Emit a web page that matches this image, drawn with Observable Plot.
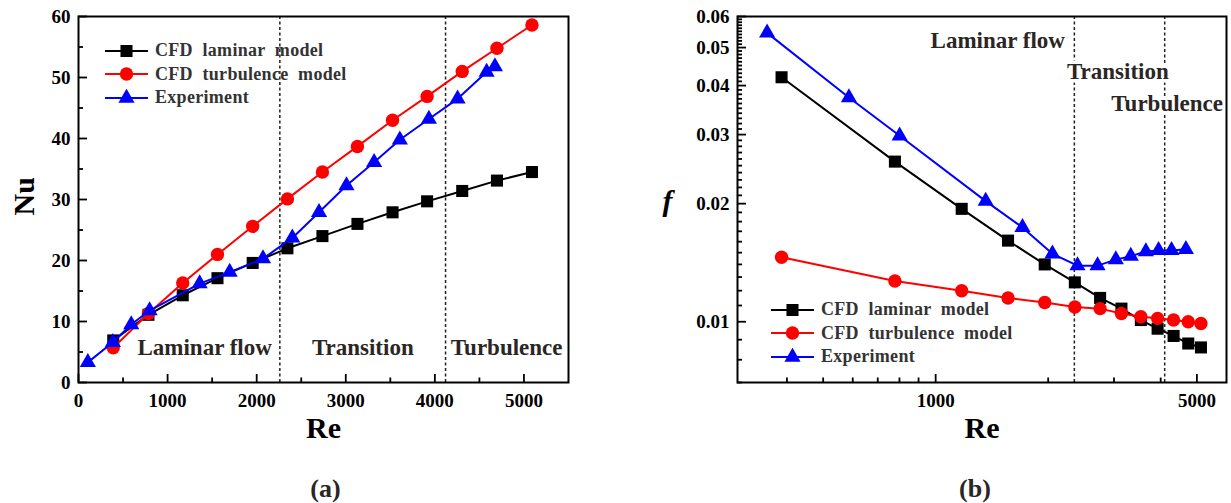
<!DOCTYPE html>
<html><head><meta charset="utf-8">
<script src="https://cdn.jsdelivr.net/npm/d3@7"></script>
<script src="https://cdn.jsdelivr.net/npm/@observablehq/plot@0.6"></script>
<style>
body{margin:0;background:#fff;}
#wrap{position:relative;width:1231px;height:503px;overflow:hidden;font-family:"Liberation Serif","Times New Roman",serif;}
.panel{position:absolute;top:0;}
.legend{position:absolute;font-weight:bold;font-size:18px;letter-spacing:0.3px;color:#333;}
.legend .row{display:flex;align-items:center;height:23.5px;white-space:pre;}
.legend svg{display:block;margin-right:7px;}
</style></head><body><div id="wrap"></div>
<script>
// ---------- data ----------
const seriesNames = ["CFD  laminar  model", "CFD  turbulence  model", "Experiment"];
const seriesColors = ["#000000", "#ff0000", "#0000ff"];
const seriesSymbols = ["square", "circle", "triangle"];

// Panel (a): Nu vs Re
const reLamA = [390, 785, 1170, 1560, 1955, 2345, 2738, 3131, 3525, 3913, 4307, 4697, 5090];
const nuLamA = [6.9, 11.1, 14.3, 17.1, 19.6, 22.0, 24.0, 26.0, 27.9, 29.7, 31.4, 33.1, 34.5];
const reTurbA = [390, 785, 1170, 1560, 1955, 2345, 2738, 3131, 3525, 3913, 4307, 4697, 5090];
const nuTurbA = [5.7, 11.3, 16.3, 21.0, 25.6, 30.1, 34.5, 38.7, 43.0, 46.9, 51.0, 54.8, 58.6];
const reExpA = [105, 386, 592, 798, 1360, 1697, 2071, 2400, 2700, 3008, 3318, 3607, 3933, 4255, 4581, 4674];
const nuExpA = [3.3, 6.6, 9.5, 11.8, 16.2, 18.1, 20.3, 23.7, 27.9, 32.3, 36.1, 39.8, 43.2, 46.5, 50.9, 51.8];

// Panel (b): f vs Re (log-log)
const reLamB = [387, 778, 1174, 1562, 1958, 2357, 2754, 3141, 3540, 3925, 4331, 4740, 5126];
const fLamB = [0.0420, 0.0256, 0.0194, 0.0161, 0.0140, 0.0126, 0.0115, 0.0108, 0.0101, 0.0096, 0.0092, 0.0088, 0.0086];
const reTurbB = [387, 778, 1174, 1562, 1958, 2357, 2754, 3141, 3540, 3925, 4331, 4740, 5126];
const fTurbB = [0.0146, 0.0127, 0.0120, 0.0115, 0.0112, 0.0109, 0.0108, 0.0105, 0.0103, 0.0102, 0.0101, 0.0100, 0.0099];
const reExpB = [354, 586, 801, 1361, 1707, 2053, 2396, 2711, 3034, 3327, 3651, 3948, 4276, 4672];
const fExpB = [0.0545, 0.0373, 0.0298, 0.0203, 0.0174, 0.0149, 0.0139, 0.0139, 0.0144, 0.0147, 0.0151, 0.0152, 0.0152, 0.0153];

// regime boundaries and labels
const boundsA = [2260, 4120];
const boundsB = [2350, 4100];
const regimeLabels = ["Laminar flow", "Transition", "Turbulence"];
const regimeReA = [1416, 3191, 4806];
const regimeNuA = [5.7, 5.7, 5.7];
const regimeReB = [1466, 3073, 4163];
const regimeFB = [0.0521, 0.0434, 0.0360];

// ticks
const xTicksA = [0, 1000, 2000, 3000, 4000, 5000];
const xMinorA = [500, 1500, 2500, 3500, 4500];
const yTicksA = [0, 10, 20, 30, 40, 50, 60];
const yMinorA = [5, 15, 25, 35, 45, 55];
const xTicksB = [1000, 5000];
const xMinorB = [400, 500, 600, 700, 800, 900, 2000, 3000, 4000];
const yTicksB = [0.01, 0.02, 0.03, 0.04, 0.05, 0.06];
const yMinorB = d3.range(7, 60).filter(v => v % 10 !== 0).map(v => v / 1000);

const xTitle = "Re";
const yTitleA = "Nu";
const yTitleB = "f";
const panelTags = ["(a)", "(b)"];

// ---------- helpers ----------
const zip = (xs, ys) => xs.map((x, i) => ({x, y: ys[i]}));
const seriesA = [zip(reLamA, nuLamA), zip(reTurbA, nuTurbA), zip(reExpA, nuExpA)];
const seriesB = [zip(reLamB, fLamB), zip(reTurbB, fTurbB), zip(reExpB, fExpB)];
const regA = regimeLabels.map((t, i) => ({t, x: regimeReA[i], y: regimeNuA[i]}));
const regB = regimeLabels.map((t, i) => ({t, x: regimeReB[i], y: regimeFB[i]}));

const H = 503;
const symR = {square: 6.8, circle: 6.7, triangle: 6.0};
const font = "Liberation Serif";

function seriesMarks(series) {
  const marks = [];
  series.forEach((d, i) => {
    marks.push(Plot.line(d, {x: "x", y: "y", stroke: seriesColors[i], strokeWidth: 2}));
    marks.push(Plot.dot(d, {x: "x", y: "y", symbol: seriesSymbols[i], r: symR[seriesSymbols[i]], fill: seriesColors[i], stroke: "none"}));
  });
  return marks;
}

function panel(opts) {
  const {width, m, xScale, yScale, xMajor, xMinor, yMajor, yMinor, bounds, series, regions, halo, yTitle, yTitleItalic, yTitleDx, yTitleDy, tag, tagDx} = opts;
  const innerW = width - m.left - m.right;
  const innerH = H - m.top - m.bottom;
  return Plot.plot({
    width, height: H,
    marginTop: m.top, marginRight: m.right, marginBottom: m.bottom, marginLeft: m.left,
    style: {fontFamily: font, background: "transparent", color: "black", overflow: "visible"},
    x: {...xScale, axis: null}, y: {...yScale, axis: null},
    marks: [
      Plot.ruleX(xMajor, {insetTop: innerH - 8, stroke: "black", strokeWidth: 1.8}),
      Plot.ruleX(xMinor, {insetTop: innerH - 4.5, stroke: "black", strokeWidth: 1.8}),
      Plot.ruleY(yMajor, {insetRight: innerW - 9, stroke: "black", strokeWidth: 1.8}),
      Plot.ruleY(yMinor, {insetRight: innerW - 5, stroke: "black", strokeWidth: 1.8}),
      Plot.ruleX(bounds, {stroke: "#222", strokeWidth: 1.5, strokeDasharray: "3,2.5"}),
      ...seriesMarks(series),
      Plot.text(regions, {x: "x", y: "y", text: "t", fontSize: 23, fontWeight: "bold", fill: "#2b2624",
        stroke: halo ? "white" : null, strokeWidth: halo ? 7 : null}),
      Plot.frame({stroke: "black", strokeWidth: 2}),
      // tick labels
      Plot.text(xMajor, {x: d => d, frameAnchor: "bottom", dy: 11, lineAnchor: "top", text: d => String(d), fontSize: 19, fontWeight: "bold"}),
      Plot.text(yMajor, {y: d => d, frameAnchor: "left", dx: -8, textAnchor: "end", lineAnchor: "middle", text: d => String(d), fontSize: 19, fontWeight: "bold"}),
      // titles
      Plot.text([xTitle], {frameAnchor: "bottom", dy: 46, text: d => d, fontSize: 30, fontWeight: "bold", lineAnchor: "middle"}),
      Plot.text([tag], {frameAnchor: "bottom", dy: 106, dx: tagDx, text: d => d, fontSize: 26, fontWeight: "bold", fill: "#2b2624", lineAnchor: "middle"}),
      Plot.text([yTitle], {frameAnchor: "left", dx: yTitleDx, dy: yTitleDy, rotate: yTitleItalic ? 0 : -90, text: d => d,
        fontSize: 30, fontWeight: "bold", fontStyle: yTitleItalic ? "italic" : "normal", lineAnchor: "middle"})
    ]
  });
}

const plotA = panel({
  width: 615, m: {top: 16, right: 47, bottom: 121, left: 78},
  xScale: {type: "linear", domain: [0, 5500]},
  yScale: {type: "linear", domain: [0, 60]},
  xMajor: xTicksA, xMinor: xMinorA, yMajor: yTicksA, yMinor: yMinorA,
  bounds: boundsA, series: seriesA, regions: regA, halo: false,
  yTitle: yTitleA, yTitleItalic: false, yTitleDx: -54, yTitleDy: 16,
  tag: panelTags[0], tagDx: 2
});
const plotB = panel({
  width: 616, m: {top: 16, right: 5, bottom: 121, left: 122},
  xScale: {type: "log", domain: [295, 6000]},
  yScale: {type: "log", domain: [0.007, 0.06]},
  xMajor: xTicksB, xMinor: xMinorB, yMajor: yTicksB, yMinor: yMinorB,
  bounds: boundsB, series: seriesB, regions: regB, halo: true,
  yTitle: yTitleB, yTitleItalic: true, yTitleDx: -75, yTitleDy: 2,
  tag: panelTags[1], tagDx: -7
});

const wrap = document.getElementById("wrap");
plotA.classList.add("panel"); plotA.style.left = "0px";
plotB.classList.add("panel"); plotB.style.left = "615px";
wrap.appendChild(plotA);
wrap.appendChild(plotB);

// legends
function legend(left, top) {
  const div = document.createElement("div");
  div.className = "legend";
  div.style.left = left + "px";
  div.style.top = top + "px";
  const ns = "http://www.w3.org/2000/svg";
  seriesNames.forEach((name, i) => {
    const row = document.createElement("div");
    row.className = "row";
    const svg = document.createElementNS(ns, "svg");
    svg.setAttribute("width", 43); svg.setAttribute("height", 18);
    const line = document.createElementNS(ns, "line");
    line.setAttribute("x1", 0); line.setAttribute("x2", 43); line.setAttribute("y1", 9); line.setAttribute("y2", 9);
    line.setAttribute("stroke", seriesColors[i]); line.setAttribute("stroke-width", 2);
    svg.appendChild(line);
    const p = document.createElementNS(ns, "path");
    const sym = {square: d3.symbolSquare, circle: d3.symbolCircle, triangle: d3.symbolTriangle}[seriesSymbols[i]];
    const r = symR[seriesSymbols[i]];
    p.setAttribute("d", d3.symbol(sym, Math.PI * r * r)());
    p.setAttribute("transform", "translate(21.5,9)");
    p.setAttribute("fill", seriesColors[i]);
    svg.appendChild(p);
    row.appendChild(svg);
    const span = document.createElement("span");
    span.textContent = name;
    row.appendChild(span);
    div.appendChild(row);
  });
  wrap.appendChild(div);
}
legend(105, 39);
legend(771, 298);
</script></body></html>
